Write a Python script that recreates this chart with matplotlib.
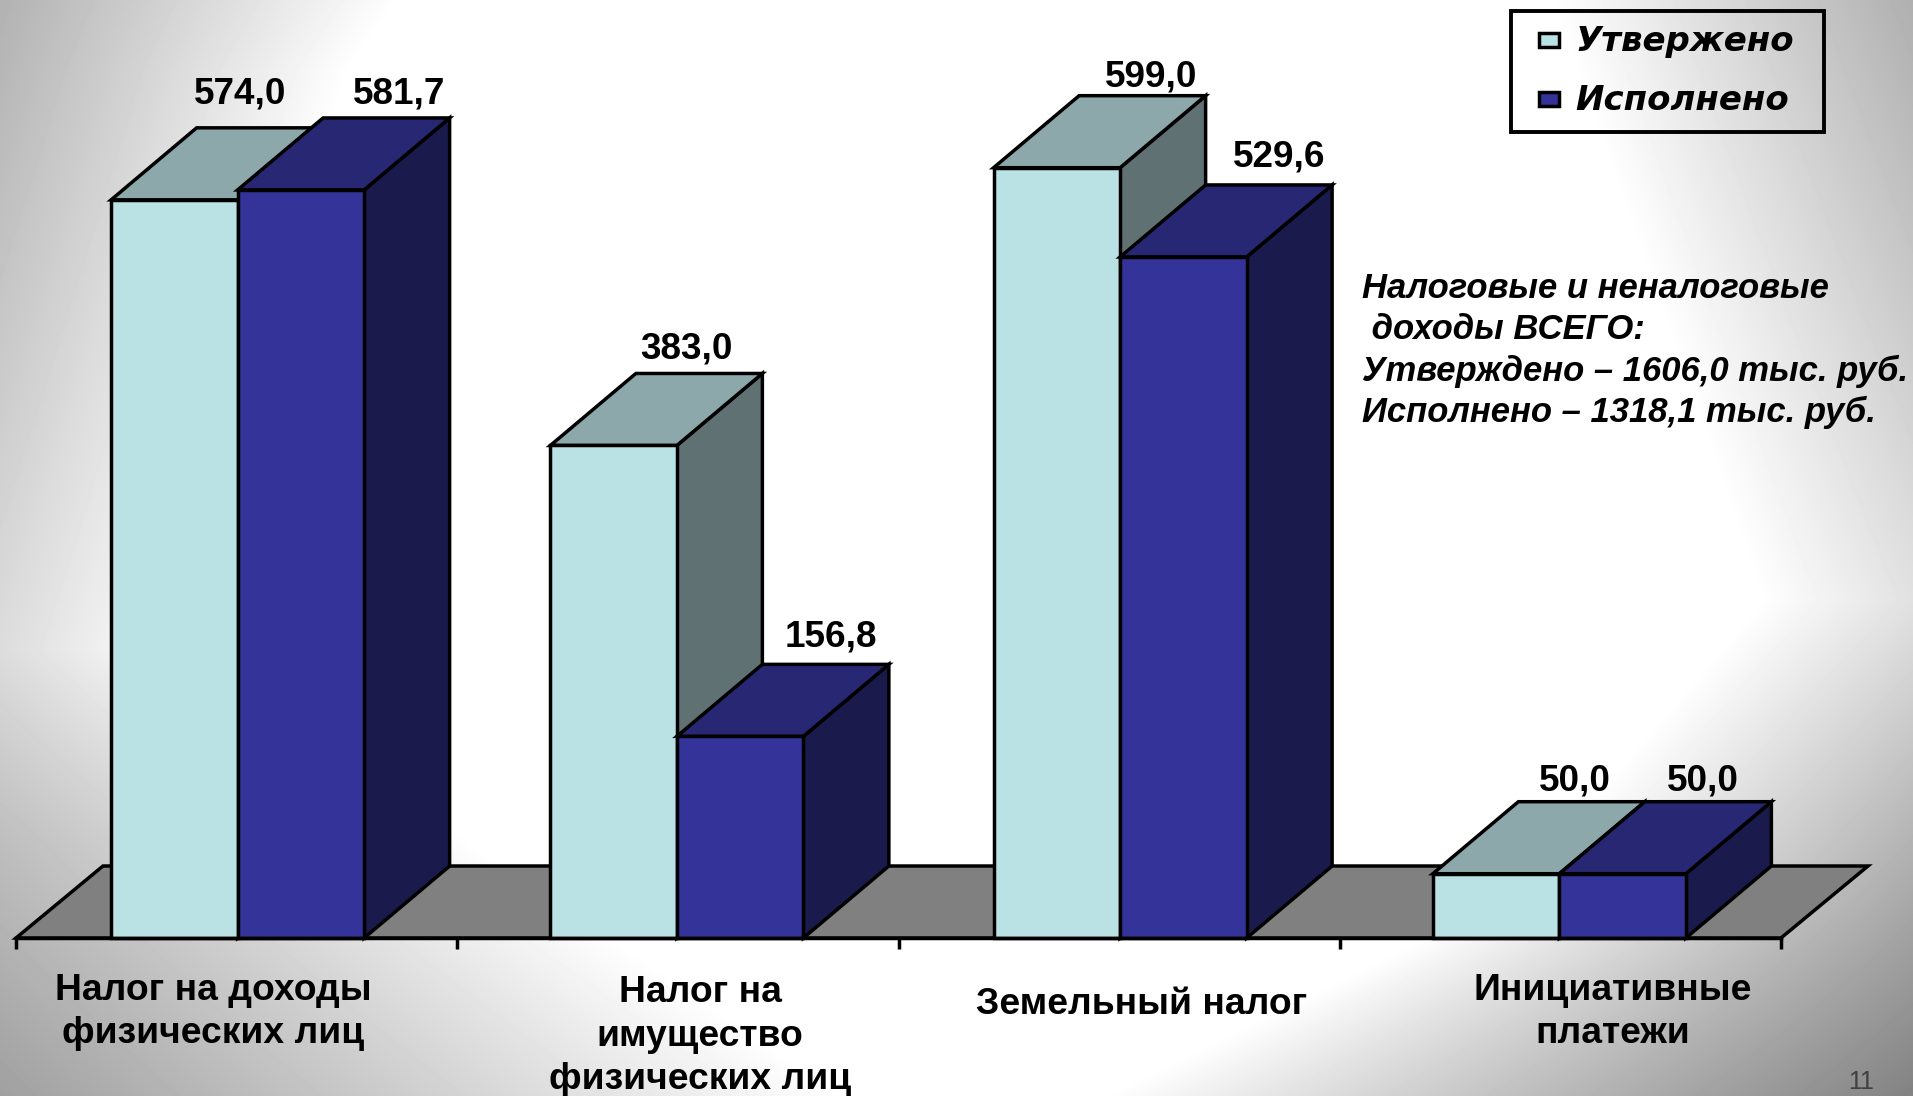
import numpy as np
import matplotlib
matplotlib.use('Agg')
import matplotlib.pyplot as plt
from matplotlib.patches import Polygon, Rectangle

plt.rcParams['font.family'] = ['Liberation Sans', 'DejaVu Sans']

# Data
categories = ['Налог на доходы\nфизических лиц', 'Налог на\nимущество\nфизических лиц',
              'Земельный налог', 'Инициативные\nплатежи']
approved = [574.0, 383.0, 599.0, 50.0]
executed = [581.7, 156.8, 529.6, 50.0]
approved_labels = ['574,0', '383,0', '599,0', '50,0']
executed_labels = ['581,7', '156,8', '529,6', '50,0']
series_names = ['Утвержено', 'Исполнено']
note = 'Налоговые и неналоговые\n доходы ВСЕГО:\nУтверждено – 1606,0 тыс. руб.\nИсполнено – 1318,1 тыс. руб.'

# Layout in pixels of the 1913x1096 picture
W, H = 1913, 1096
X0, X1, Y0 = 16, 1781, 938
PX_PER_VALUE = 1.286
PX_PER_CAT = (X1 - X0) / 4
BAR_W = 126.5 / PX_PER_CAT
DX = 85.5 / PX_PER_CAT
FLOOR_DX = 87 / PX_PER_CAT
DY = 72 / PX_PER_VALUE
LW = 2.5
group_shift = [1, -1, 1, -1]

COLORS = {'front': ['#BAE1E3', '#333399'], 'top': ['#8DA8AB', '#272773'], 'side': ['#5F7173', '#1A1A4D']}

fig = plt.figure(figsize=(W / 100, H / 100), dpi=100)

# Background gradient: white middle, grey towards both side edges
bg = fig.add_axes([0, 0, 1, 1], zorder=-1)
yy, xx = np.mgrid[0:H, 0:W]
rows = np.arange(H)
white_left = np.interp(rows, [0, 70, 650, 840, 1096], [400, 350, 180, 470, 850])
white_right = np.interp(rows, [0, 600, 900, 1096], [1550, 1760, 1500, 1100])
edge_left = np.interp(rows, [0, 650, 840, 1096], [178, 220, 190, 160])
edge_right = np.interp(rows, [0, 600, 1096], [175, 225, 130])
t_left = np.clip(xx / white_left[:, None], 0, 1)
t_right = np.clip((W - xx) / (W - white_right[:, None]), 0, 1)
grey = np.minimum(edge_left[:, None] + (255 - edge_left[:, None]) * t_left,
                  edge_right[:, None] + (255 - edge_right[:, None]) * t_right)
bg.imshow(grey, cmap='gray', vmin=0, vmax=255, aspect='auto')
bg.axis('off')

ax = fig.add_axes([X0 / W, (H - Y0) / H, (X1 - X0) / W, Y0 / H])
ax.patch.set_alpha(0)
ax.set_xlim(0, 4)
ax.set_ylim(0, Y0 / PX_PER_VALUE)
for s in ['top', 'left', 'right']:
    ax.spines[s].set_visible(False)
ax.spines['bottom'].set_linewidth(LW)
ax.spines['bottom'].set_zorder(20)
ax.set_yticks([])
ax.set_xticks(range(5), [''] * 5)
ax.tick_params(axis='x', length=8, width=LW)

# Floor
ax.add_patch(Polygon([(0, 0), (FLOOR_DX, DY), (4 + FLOOR_DX, DY), (4, 0)], closed=True, fc='#808080', ec='black',
                     lw=LW, clip_on=False, zorder=1))

z = 2
for i in range(len(categories)):
    for j, vals in enumerate([approved, executed]):
        v = vals[i]
        left = i + 0.5 + group_shift[i] / PX_PER_CAT - BAR_W + j * BAR_W
        right = left + BAR_W
        ax.add_patch(Polygon([(right, 0), (right + DX, DY), (right + DX, v + DY), (right, v)], closed=True,
                             fc=COLORS['side'][j], ec='black', lw=LW, clip_on=False, zorder=z))
        ax.add_patch(Polygon([(left, v), (left + DX, v + DY), (right + DX, v + DY), (right, v)], closed=True,
                             fc=COLORS['top'][j], ec='black', lw=LW, clip_on=False, zorder=z))
        ax.bar(left, v, width=BAR_W, align='edge', color=COLORS['front'][j], edgecolor='black', lw=LW,
               clip_on=False, zorder=z)
        z += 1

# Value labels, offsets from the bar left edge in px
approved_dx = [130, 135, 158, 141]
executed_dx = [162, 153, 160, 142]
approved_dy = [34, 24, 19, 21]
executed_dy = [24, 27, 28, 21]
for i in range(len(categories)):
    for j, (vals, labs, dxs, dys) in enumerate([(approved, approved_labels, approved_dx, approved_dy),
                                                (executed, executed_labels, executed_dx, executed_dy)]):
        left = i + 0.5 - BAR_W + j * BAR_W
        ax.text(left + dxs[i] / PX_PER_CAT, vals[i] + DY + dys[i] / PX_PER_VALUE, labs[i], ha='center', va='center',
                fontsize=26.6, fontweight='bold', zorder=30, clip_on=False)

# Category labels
cat_x = [213, 700, 1142, 1613]
cat_y = [1012, 1036, 1005, 1012]
for lab, x, y in zip(categories, cat_x, cat_y):
    ax.text((x - X0) / PX_PER_CAT, (Y0 - y) / PX_PER_VALUE, lab, ha='center', va='center', fontsize=26.8,
            fontweight='bold', linespacing=1.33, clip_on=False)

# Note on the right
ax.text((1362 - X0) / PX_PER_CAT, (Y0 - 272) / PX_PER_VALUE, note, ha='left', va='top', fontsize=24.9,
        fontweight='bold', fontstyle='italic', linespacing=1.32, zorder=30)

# Legend drawn by hand: frame, swatches and wide oblique labels
fig.add_artist(Rectangle((1511 / W, 1 - 132 / H), 313 / W, 121 / H, transform=fig.transFigure, fc='none',
                         ec='black', lw=2.8))
legend_y = [40, 99]
for k, y in enumerate(legend_y):
    fig.add_artist(Rectangle((1539 / W, 1 - (y + 7) / H), 20 / W, 14 / H, transform=fig.transFigure,
                             fc=COLORS['front'][k], ec='black', lw=2.5))
    fig.text(1575 / W, 1 - (y + 2) / H, series_names[k], ha='left', va='center', family='DejaVu Sans',
             style='oblique', weight='bold', fontsize=24.5)

# Slide number
fig.text(1861 / W, 1 - 1082 / H, '11', ha='center', va='center', fontsize=18, color='#404040')

fig.savefig('out.png', dpi=100)
